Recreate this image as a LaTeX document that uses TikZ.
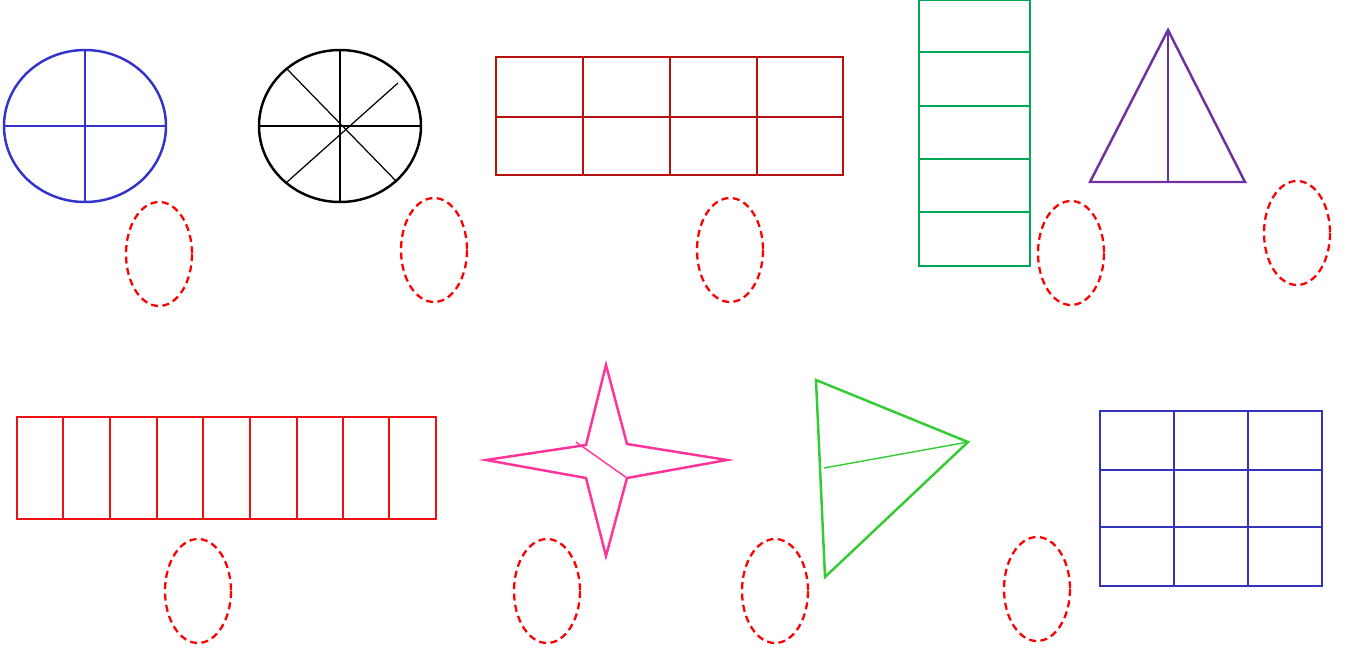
\documentclass[tikz,border=0pt]{standalone}
\usepackage{xcolor}
\usepackage{tikz}
\definecolor{cblue}{HTML}{3333CC}
\definecolor{cdred}{HTML}{B80F0F}
\definecolor{cgreen}{HTML}{00A855}
\definecolor{cpurple}{HTML}{7030A0}
\definecolor{cred}{HTML}{EE1111}
\definecolor{cpink}{HTML}{FF3399}
\definecolor{clime}{HTML}{33CC33}
\definecolor{cnavy}{HTML}{3333BB}
\tikzset{answer/.style={draw=red,dashed,line width=1.3pt,dash pattern=on 4pt off 2.5pt}}

\begin{document}
\begin{tikzpicture}[x=0.02cm,y=-0.02cm,line join=miter]
  \useasboundingbox (0,0) rectangle (1352,654);
  % circle in quarters
  \draw[cblue,line width=1.4pt] (85,126) ellipse (81 and 76);
  \draw[cblue,line width=1.4pt] (85,50) -- (85,202) (4,126) -- (166,126);
  % circle in eighths
  \draw[black,line width=1.4pt] (340,126) ellipse (81 and 76);
  \draw[black,line width=1.4pt] (340,50) -- (340,202) (259,126) -- (421,126);
  \draw[black,line width=0.7pt] (287,69) -- (397,182) (287,182) -- (398,83);
  % rectangle 4 by 2
  \draw[cdred,line width=1pt] (496,57) rectangle (843,175);
  \foreach \x in {583,670,757}{\draw[cdred,line width=1pt] (\x,57) -- (\x,175);}
  \draw[cdred,line width=1pt] (496,117) -- (843,117);
  % tall strip in fifths
  \draw[cgreen,line width=1pt] (919,0) rectangle (1030,266);
  \foreach \y in {52,106,159,212}{\draw[cgreen,line width=1pt] (919,\y) -- (1030,\y);}
  % triangle in halves
  \draw[cpurple,line width=1.4pt] (1168,30) -- (1245,182) -- (1090,182) -- cycle;
  \draw[cpurple,line width=0.8pt] (1168,30) -- (1168,182);
  % strip in ninths
  \draw[cred,line width=1pt] (17,417) rectangle (436,519);
  \foreach \x in {63,110,157,203,250,297,343,389}{\draw[cred,line width=1pt] (\x,417) -- (\x,519);}
  % four point star
  \draw[cpink,line width=1.4pt] (606,365) -- (627,444) -- (727,460) -- (627,478) -- (606,556)
    -- (586,478) -- (486,460) -- (586,445) -- cycle;
  \draw[cpink,line width=0.8pt] (576,442) -- (627,478);
  % green triangle
  \draw[clime,line width=1.4pt] (816,380) -- (968,442) -- (825,577) -- cycle;
  \draw[clime,line width=0.8pt] (824,468) -- (968,442);
  % grid 3 by 3
  \draw[cnavy,line width=1pt] (1100,411) rectangle (1322,586);
  \foreach \x in {1174,1248}{\draw[cnavy,line width=1pt] (\x,411) -- (\x,586);}
  \foreach \y in {470,527}{\draw[cnavy,line width=1pt] (1100,\y) -- (1322,\y);}
  % answer ovals
  \foreach \cx/\cy in {159/254,434/250,730/250,1071/253,1297/233,198/591,547/591,775/591,1037/589}{
    \draw[answer] (\cx,\cy) ellipse (33 and 52);
  }
\end{tikzpicture}
\end{document}
